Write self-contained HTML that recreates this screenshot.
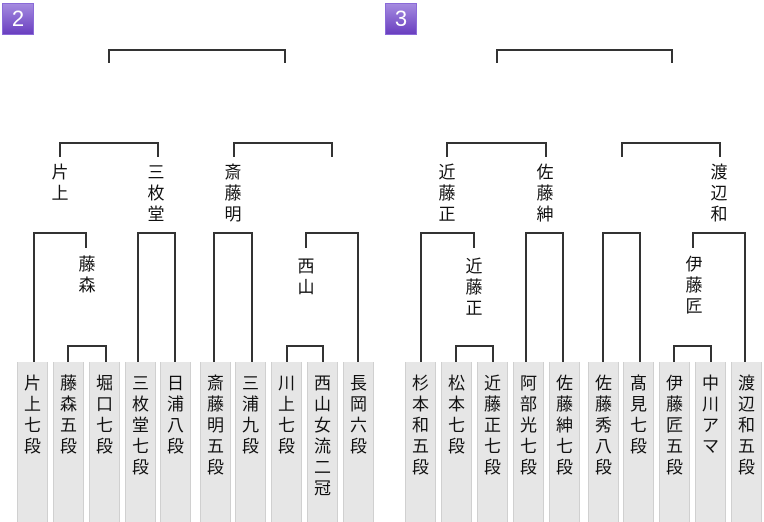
<!DOCTYPE html>
<html><head><meta charset="utf-8"><style>
body{margin:0;width:764px;height:518px;background:#fff;position:relative;overflow:hidden;font-family:"Liberation Sans","Noto Sans CJK JP",sans-serif;}
.b{position:absolute;width:31px;top:362px;height:160px;background:#e6e6e6;border-left:1px solid #d0d0d0;border-right:1px solid #d0d0d0;box-sizing:border-box;}
.b span{position:absolute;left:0;right:0;top:11px;text-align:center;font-size:17px;line-height:21px;color:#111;}
.h{position:absolute;height:2px;background:#333;}
.v{position:absolute;width:2px;background:#333;}
.t{position:absolute;width:20px;margin-left:-10px;text-align:center;font-size:17px;line-height:21px;color:#111;}
.bd{position:absolute;top:3px;width:32px;height:32px;background:linear-gradient(#a58be0,#6a3fc0);border:1px solid #8a6ad8;box-sizing:border-box;color:#fff;font-size:22px;line-height:30px;text-align:center;}
</style></head><body>
<div class="bd" style="left:2px">2</div>
<div class="bd" style="left:385px">3</div>

<!-- left group -->
<div class="b" style="left:17px"><span>片<br>上<br>七<br>段</span></div>
<div class="b" style="left:53px"><span>藤<br>森<br>五<br>段</span></div>
<div class="b" style="left:89px"><span>堀<br>口<br>七<br>段</span></div>
<div class="b" style="left:125px"><span>三<br>枚<br>堂<br>七<br>段</span></div>
<div class="b" style="left:160px"><span>日<br>浦<br>八<br>段</span></div>
<div class="b" style="left:200px"><span>斎<br>藤<br>明<br>五<br>段</span></div>
<div class="b" style="left:235px"><span>三<br>浦<br>九<br>段</span></div>
<div class="b" style="left:271px"><span>川<br>上<br>七<br>段</span></div>
<div class="b" style="left:307px"><span>西<br>山<br>女<br>流<br>二<br>冠</span></div>
<div class="b" style="left:343px"><span>長<br>岡<br>六<br>段</span></div>

<div class="h" style="left:108px;width:178px;top:49px"></div>
<div class="v" style="left:108px;top:49px;height:14px"></div>
<div class="v" style="left:284px;top:49px;height:14px"></div>

<div class="h" style="left:59px;width:100px;top:142px"></div>
<div class="v" style="left:59px;top:142px;height:15px"></div>
<div class="v" style="left:157px;top:142px;height:15px"></div>
<div class="h" style="left:233px;width:100px;top:142px"></div>
<div class="v" style="left:233px;top:142px;height:15px"></div>
<div class="v" style="left:331px;top:142px;height:15px"></div>

<div class="h" style="left:33px;width:54px;top:232px"></div>
<div class="v" style="left:33px;top:232px;height:130px"></div>
<div class="v" style="left:85px;top:232px;height:16px"></div>
<div class="h" style="left:137px;width:39px;top:232px"></div>
<div class="v" style="left:137px;top:232px;height:130px"></div>
<div class="v" style="left:174px;top:232px;height:130px"></div>
<div class="h" style="left:213px;width:40px;top:232px"></div>
<div class="v" style="left:213px;top:232px;height:130px"></div>
<div class="v" style="left:251px;top:232px;height:130px"></div>
<div class="h" style="left:305px;width:54px;top:232px"></div>
<div class="v" style="left:305px;top:232px;height:16px"></div>
<div class="v" style="left:357px;top:232px;height:130px"></div>

<div class="h" style="left:67px;width:40px;top:345px"></div>
<div class="v" style="left:67px;top:345px;height:17px"></div>
<div class="v" style="left:105px;top:345px;height:17px"></div>
<div class="h" style="left:286px;width:38px;top:345px"></div>
<div class="v" style="left:286px;top:345px;height:17px"></div>
<div class="v" style="left:322px;top:345px;height:17px"></div>

<div class="t" style="left:60px;top:162px">片<br>上</div>
<div class="t" style="left:156px;top:162px">三<br>枚<br>堂</div>
<div class="t" style="left:233px;top:162px">斎<br>藤<br>明</div>
<div class="t" style="left:87px;top:254px">藤<br>森</div>
<div class="t" style="left:306px;top:256px">西<br>山</div>

<!-- right group -->
<div class="b" style="left:405px"><span>杉<br>本<br>和<br>五<br>段</span></div>
<div class="b" style="left:441px"><span>松<br>本<br>七<br>段</span></div>
<div class="b" style="left:477px"><span>近<br>藤<br>正<br>七<br>段</span></div>
<div class="b" style="left:513px"><span>阿<br>部<br>光<br>七<br>段</span></div>
<div class="b" style="left:549px"><span>佐<br>藤<br>紳<br>七<br>段</span></div>
<div class="b" style="left:588px"><span>佐<br>藤<br>秀<br>八<br>段</span></div>
<div class="b" style="left:623px"><span>髙<br>見<br>七<br>段</span></div>
<div class="b" style="left:659px"><span>伊<br>藤<br>匠<br>五<br>段</span></div>
<div class="b" style="left:695px"><span>中<br>川<br>ア<br>マ</span></div>
<div class="b" style="left:731px"><span>渡<br>辺<br>和<br>五<br>段</span></div>

<div class="h" style="left:496px;width:177px;top:49px"></div>
<div class="v" style="left:496px;top:49px;height:14px"></div>
<div class="v" style="left:671px;top:49px;height:14px"></div>

<div class="h" style="left:446px;width:101px;top:142px"></div>
<div class="v" style="left:446px;top:142px;height:15px"></div>
<div class="v" style="left:545px;top:142px;height:15px"></div>
<div class="h" style="left:621px;width:100px;top:142px"></div>
<div class="v" style="left:621px;top:142px;height:15px"></div>
<div class="v" style="left:719px;top:142px;height:15px"></div>

<div class="h" style="left:420px;width:55px;top:232px"></div>
<div class="v" style="left:420px;top:232px;height:130px"></div>
<div class="v" style="left:473px;top:232px;height:16px"></div>
<div class="h" style="left:525px;width:39px;top:232px"></div>
<div class="v" style="left:525px;top:232px;height:130px"></div>
<div class="v" style="left:562px;top:232px;height:130px"></div>
<div class="h" style="left:602px;width:39px;top:232px"></div>
<div class="v" style="left:602px;top:232px;height:130px"></div>
<div class="v" style="left:639px;top:232px;height:130px"></div>
<div class="h" style="left:692px;width:54px;top:232px"></div>
<div class="v" style="left:692px;top:232px;height:16px"></div>
<div class="v" style="left:744px;top:232px;height:130px"></div>

<div class="h" style="left:455px;width:39px;top:345px"></div>
<div class="v" style="left:455px;top:345px;height:17px"></div>
<div class="v" style="left:492px;top:345px;height:17px"></div>
<div class="h" style="left:673px;width:39px;top:345px"></div>
<div class="v" style="left:673px;top:345px;height:17px"></div>
<div class="v" style="left:710px;top:345px;height:17px"></div>

<div class="t" style="left:447px;top:162px">近<br>藤<br>正</div>
<div class="t" style="left:545px;top:162px">佐<br>藤<br>紳</div>
<div class="t" style="left:719px;top:162px">渡<br>辺<br>和</div>
<div class="t" style="left:474px;top:256px">近<br>藤<br>正</div>
<div class="t" style="left:694px;top:254px">伊<br>藤<br>匠</div>
</body></html>
